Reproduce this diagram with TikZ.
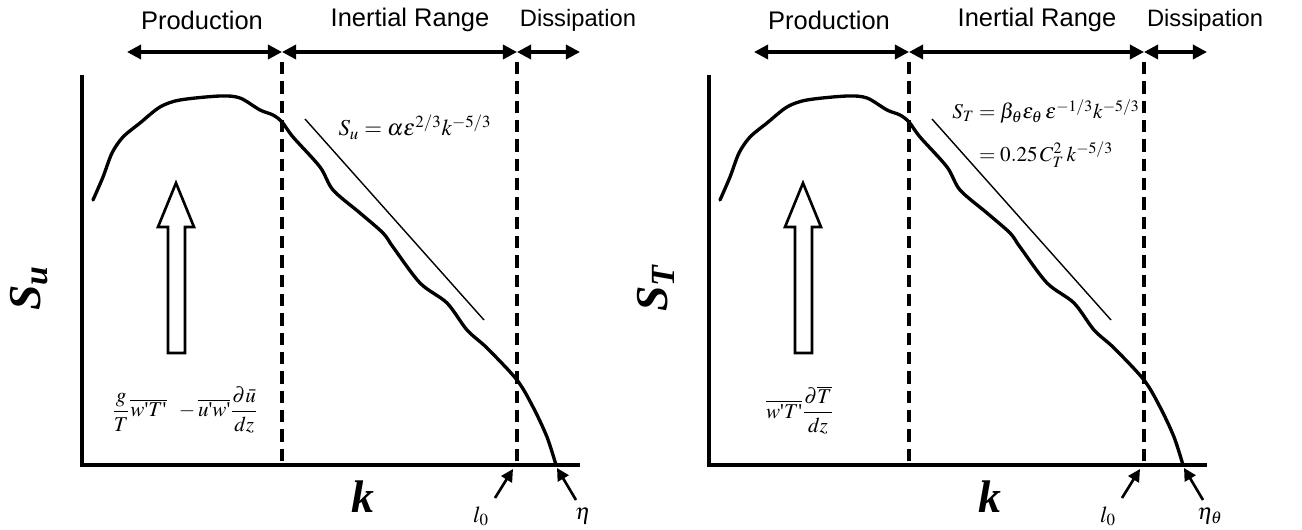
\documentclass[tikz,border=0pt]{standalone}
\usepackage{mathptmx}
\usepackage[no-math]{fontspec}
\setmainfont{Liberation Serif}
\setsansfont{Liberation Sans}
\usetikzlibrary{arrows.meta}
\newcommand{\primemark}{\mbox{\textquotesingle}}

\begin{document}
\begin{tikzpicture}[x=0.02cm, y=-0.02cm, line width=2pt,
  rng/.style={{Triangle[length=8pt,width=8pt]}-{Triangle[length=8pt,width=8pt]}, line width=1.9pt},
  lim/.style={dash pattern=on 7pt off 4pt, line width=1.9pt},
  spec/.style={line width=1.9pt, line join=round, line cap=round},
  hd/.style={font=\sffamily\fontsize{14.5}{16}\selectfont},
  axlab/.style={font=\fontsize{26}{28}\selectfont\bfseries\itshape},
  eq/.style={font=\fontsize{13}{15}\selectfont},
  pnt/.style={-{Triangle[length=7pt,width=7pt]}, line width=1.5pt}]
  \useasboundingbox (0,0) rectangle (1302,530);
  % 두 스펙트럼 공통 부분
  \foreach \dx/\sy/\et in {0/u/\eta, 627/T/\eta_\theta} {
  \begin{scope}[shift={(\dx,0)}]
    % 축
    \draw (82,75) -- (82,465) -- (580,465);
    \draw[lim] (282,62) -- (282,465);
    \draw[lim] (517,62) -- (517,465);
    % 구간 화살표
    \coordinate (a\sy) at (127,52);
    \coordinate (b\sy) at (282,52);
    \coordinate (c\sy) at (517,52);
    \coordinate (d\sy) at (580,52);
    \draw[rng] (a\sy) -- (b\sy);
    \draw[rng] (b\sy) -- (c\sy);
    \draw[rng] (c\sy) -- (d\sy);
    \node[hd] (prod\sy) at (202,20) {Production};
    \node[hd] (iner\sy) at (410,20) {Inertial Range};
    \node[hd, font=\sffamily\fontsize{13.5}{15}\selectfont] (diss\sy) at (578,20) {Dissipation};
    % 스펙트럼 곡선
    \draw[spec] plot[smooth, tension=0.5] coordinates {(93,200) (103,177) (112,153)
      (123,137) (140,123) (160,107) (180,100) (220,96) (240,98) (260,110) (273,115)
      (282,122) (293,137) (320,167) (333,190) (360,213) (383,233) (393,247) (420,283)
      (447,303) (467,330) (487,348) (517,380) (533,407) (547,437) (556,465)};
    \draw[line width=0.8pt] (305,119) -- (484,320);
    % 큰 화살표
    \draw[line width=1.5pt, line join=miter] (168,353) -- (168,227) -- (158,227)
      -- (176,183) -- (194,227) -- (185,227) -- (185,353) -- cycle;
    % 축 이름
    \node[axlab, rotate=90] (s\sy) at (29,288) {S\textsubscript{\sy}};
    \node[axlab] (k\sy) at (363,497) {k};
    % 길이 척도
    \node[eq] (l\sy) at (481,516) {$l_{0}$};
    \node[eq] (e\sy) at (583,516) {$\et$};
    \coordinate (lt\sy) at (495,498);
    \coordinate (lh\sy) at (513,469);
    \coordinate (et\sy) at (576,500);
    \coordinate (eh\sy) at (557,468);
    \draw[pnt] (lt\sy) -- (lh\sy);
    \draw[pnt] (et\sy) -- (eh\sy);
  \end{scope}
  }
  % 왼쪽: 속도
  \node[eq] (su) at (415,127) {$S_{u}=\alpha\varepsilon^{2/3}k^{-5/3}$};
  \node[eq, font=\fontsize{12}{14}\selectfont] (pu) at (185,410) {$\displaystyle\frac{g}{T}\overline{w\primemark T\primemark}\;\;
    -\overline{u\primemark w\primemark}\frac{\partial\bar{u}}{dz}$};
  % 오른쪽: 온도
  \node[eq, font=\fontsize{12}{14}\selectfont] (st) at (1046,134) {$\begin{array}{r@{}l}
    S_{T} &{}=\beta_{\theta}\varepsilon_{\theta}\,\varepsilon^{-1/3}k^{-5/3}\\[9pt]
    &{}=0.25\,C_{T}^{2}\,k^{-5/3}\end{array}$};
  \node[eq, font=\fontsize{12}{14}\selectfont] (pt) at (800,410) {$\displaystyle\overline{w\primemark T\primemark}
    \frac{\partial\overline{T}}{dz}$};
\end{tikzpicture}
\end{document}
